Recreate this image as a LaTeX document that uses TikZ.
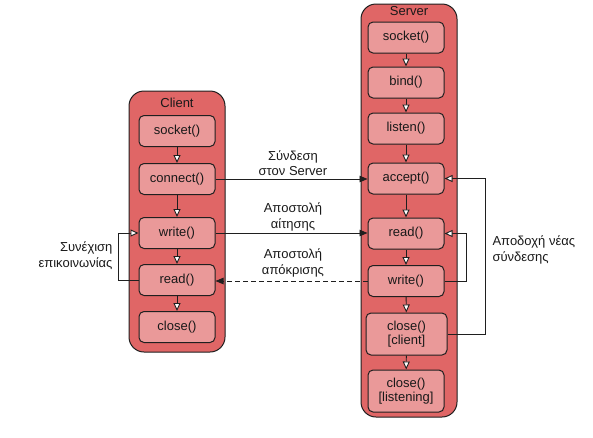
\documentclass[tikz,border=0pt]{standalone}
\usepackage{fontspec}
\setmainfont{Liberation Sans}
\usetikzlibrary{arrows.meta}
\definecolor{contc}{HTML}{E06666}
\definecolor{boxc}{HTML}{EA9999}
\definecolor{edgec}{HTML}{1F1F1F}
\begin{document}
\begin{tikzpicture}[x=1pt,y=-1pt,
  txt/.style={font=\fontsize{13}{15.5}\selectfont, align=center, text=black!90},
  container/.style={draw=edgec, fill=contc, rounded corners=15pt, line width=1pt, inner sep=0pt},
  stepbox/.style={txt, draw=edgec, fill=boxc, rounded corners=5pt, minimum width=76pt, minimum height=31pt, inner sep=2pt, line width=1pt},
  tallbox/.style={stepbox, minimum height=42pt},
  flow/.style={draw=edgec, line width=0.9pt, -{Triangle[open, length=8pt, width=7pt, fill=white]}},
  msg/.style={draw=edgec, line width=0.9pt, -{Triangle[length=8pt, width=6.5pt]}}
]
\useasboundingbox (0,0) rectangle (593,437);
% containers
\node[container, minimum width=96pt, minimum height=261pt] (client) at (177,221.5) {};
\node[container, minimum width=96pt, minimum height=413pt] (server) at (409,210.5) {};
\node[txt] (clienttitle) at (177,103) {Client};
\node[txt] (servertitle) at (409,11) {Server};
% client steps
\node[stepbox] (csocket) at (177,131) {socket()};
\node[stepbox] (cconnect) at (177,179) {connect()};
\node[stepbox] (cwrite) at (177,233) {write()};
\node[stepbox] (cread) at (177,280) {read()};
\node[stepbox] (cclose) at (177,327) {close()};
% server steps
\node[stepbox] (ssocket) at (406,37.5) {socket()};
\node[stepbox] (sbind) at (406,82.5) {bind()};
\node[stepbox] (slisten) at (406,128.5) {listen()};
\node[stepbox] (saccept) at (406,178.5) {accept()};
\node[stepbox] (sread) at (406,233.5) {read()};
\node[stepbox] (swrite) at (406,281) {write()};
\node[tallbox, minimum width=81pt] (sclosec) at (406.5,334) {close()\\[-2pt][client]};
\node[tallbox] (sclosel) at (406,391) {close()\\[-2pt][listening]};
% client flow
\draw[flow] (csocket) -- (cconnect);
\draw[flow] (cconnect) -- (cwrite);
\draw[flow] (cwrite) -- (cread);
\draw[flow] (cread) -- (cclose);
% server flow
\draw[flow] (ssocket) -- (sbind);
\draw[flow] (sbind) -- (slisten);
\draw[flow] (slisten) -- (saccept);
\draw[flow] (saccept) -- (sread);
\draw[flow] (sread) -- (swrite);
\draw[flow] (swrite) -- (sclosec);
\draw[flow] (sclosec) -- (sclosel);
% loops
\coordinate (cloop) at (118,280);
\draw[flow] (cread.west) -- (cloop) |- (cwrite.west);
\coordinate (sloop1) at (466,281);
\draw[flow] (swrite.east) -- (sloop1) |- (sread.east);
\coordinate (sloop2) at (485,334);
\draw[flow] (sclosec.east) -- (sloop2) |- (saccept.east);
% messages
\draw[msg] (cconnect.east) -- (cconnect.east -| saccept.west);
\draw[msg] (cwrite.east) -- (cwrite.east -| sread.west);
\draw[msg, dashed, dash pattern=on 5pt off 3pt] (swrite.west) -- (swrite.west -| cread.east);
% labels
\node[txt] (lconn) at (293,163) {Σύνδεση\\στον Server};
\node[txt] (lreq) at (293,217) {Αποστολή\\αίτησης};
\node[txt] (lresp) at (293,263) {Αποστολή\\απόκρισης};
\node[txt, align=right, anchor=east] (lcont) at (116,255.5) {Συνέχιση\\επικοινωνίας};
\node[txt, align=left, anchor=west] (lnew) at (489,250) {Αποδοχή νέας\\σύνδεσης};
\end{tikzpicture}
\end{document}
